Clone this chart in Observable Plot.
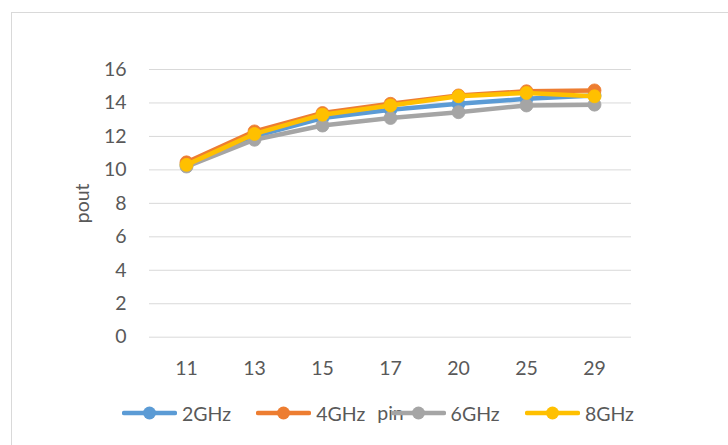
<!DOCTYPE html>
<html>
<head>
<meta charset="utf-8">
<script src="https://cdn.jsdelivr.net/npm/d3@7"></script>
<script src="https://cdn.jsdelivr.net/npm/@observablehq/plot@0.6"></script>
<style>
  html, body { margin: 0; padding: 0; background: #fff; overflow: hidden; }
  #wrap { position: relative; width: 728px; height: 445px; }
  #border { position: absolute; left: 11px; top: 12px; width: 900px; height: 600px; border: 1px solid #d9d9d9; box-sizing: border-box; }
  #chart { position: absolute; left: 0; top: 0; }
  #legend { position: absolute; left: 122px; top: 400px; display: flex; font-family: Lato, sans-serif; font-size: 19.5px; color: #595959; }
  .item { width: 134.3px; display: flex; align-items: center; height: 26px; }
  .item svg { margin-right: 5px; }
</style>
</head>
<body>
<div id="wrap">
  <div id="border"></div>
  <div id="chart"></div>
  <div id="legend"></div>
</div>
<script>
const pin = ["11", "13", "15", "17", "20", "25", "29"];
const series = ["2GHz", "4GHz", "6GHz", "8GHz"];
const colors = ["#5B9BD5", "#ED7D31", "#A5A5A5", "#FFC000"];
const g2 = [10.3, 12.0, 13.1, 13.6, 13.95, 14.25, 14.45];
const g4 = [10.45, 12.3, 13.4, 13.95, 14.45, 14.7, 14.75];
const g6 = [10.2, 11.8, 12.65, 13.1, 13.45, 13.85, 13.9];
const g8 = [10.3, 12.15, 13.3, 13.85, 14.4, 14.6, 14.4];
const yTicks = [0, 2, 4, 6, 8, 10, 12, 14, 16];

const values = [g2, g4, g6, g8];
const data = series.flatMap((s, k) => values[k].map((v, i) => ({pin: pin[i], pout: v, s})));

const seriesMarks = series.flatMap(s => {
  const d = data.filter(r => r.s === s);
  return [
    Plot.line(d, {x: "pin", y: "pout", stroke: "s", strokeWidth: 4.5, strokeLinejoin: "round", strokeLinecap: "round"}),
    Plot.dot(d, {x: "pin", y: "pout", fill: "s", r: 6.5, stroke: "s", strokeWidth: 0.8})
  ];
});

const chart = Plot.plot({
  width: 728,
  height: 445,
  marginLeft: 149,
  marginRight: 97,
  marginTop: 69,
  marginBottom: 108.3,
  style: {fontFamily: "Lato, sans-serif", fontSize: "19.5px", color: "#595959", background: "transparent", overflow: "visible"},
  x: {type: "point", domain: pin, padding: 0.5},
  y: {domain: [0, 16]},
  color: {domain: series, range: colors},
  marks: [
    Plot.gridY(yTicks, {stroke: "#d9d9d9", strokeOpacity: 1, strokeWidth: 1}),
    Plot.axisY(yTicks, {tickSize: 0, tickPadding: 23, label: "pout", labelAnchor: "center", labelOffset: 74, labelArrow: "none", fill: "#595959"}),
    Plot.axisX({tickSize: 0, tickPadding: 24, label: "pin", labelAnchor: "center", labelOffset: 83, labelArrow: "none", fill: "#595959"}),
    ...seriesMarks
  ]
});
document.getElementById("chart").appendChild(chart);

const legend = document.getElementById("legend");
series.forEach((s, k) => {
  const item = document.createElement("div");
  item.className = "item";
  item.innerHTML = `<svg width="55" height="16"><line x1="2" y1="8" x2="53" y2="8" stroke="${colors[k]}" stroke-width="4.5" stroke-linecap="round"/><circle cx="27.5" cy="8" r="6.5" fill="${colors[k]}"/></svg><span>${s}</span>`;
  legend.appendChild(item);
});
</script>
</body>
</html>
